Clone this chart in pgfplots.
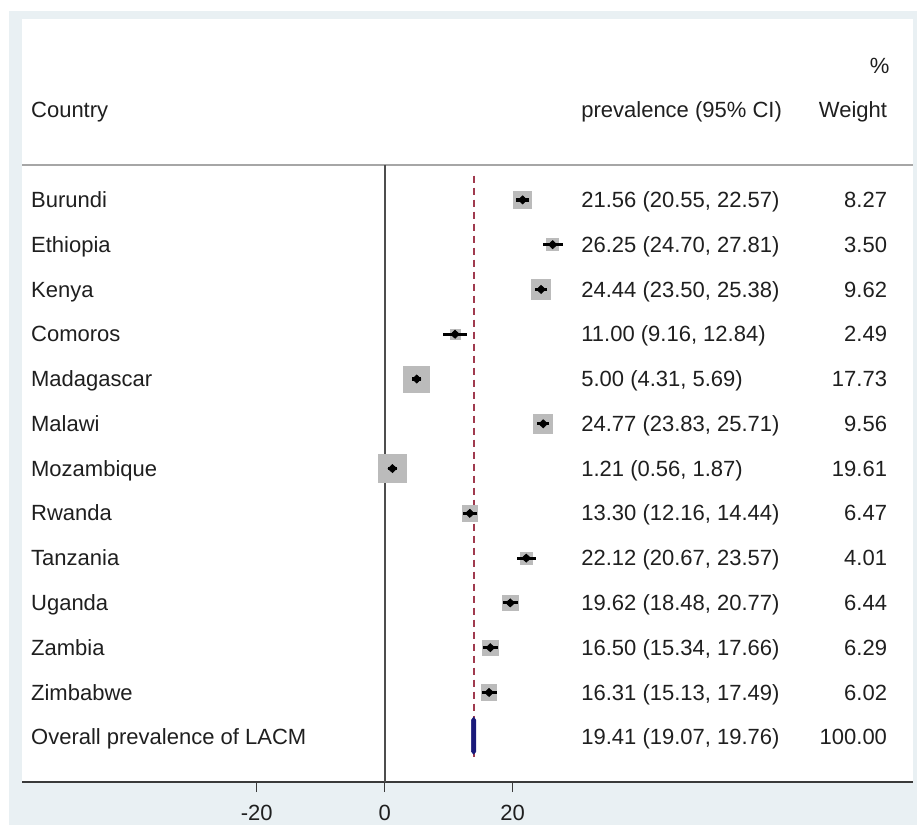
\documentclass[border=0pt]{standalone}
\usepackage{pgfplots}
\pgfplotsset{compat=1.18}
\usepackage{pgfplotstable}
\usepackage{fontspec}
\setmainfont{Liberation Sans}
\definecolor{framecol}{HTML}{E9F0F3}
\definecolor{boxgray}{HTML}{BBBBBB}
\definecolor{refred}{HTML}{A03A4E}
\definecolor{navyd}{HTML}{1A1A7A}
\definecolor{axisgray}{HTML}{3A3A3A}
\pgfplotstableread{
y x lo hi w
1 21.56 20.55 22.57 8.27
2 26.25 24.70 27.81 3.50
3 24.44 23.50 25.38 9.62
4 11.00 9.16 12.84 2.49
5 5.00 4.31 5.69 17.73
6 24.77 23.83 25.71 9.56
7 1.21 0.56 1.87 19.61
8 13.30 12.16 14.44 6.47
9 22.12 20.67 23.57 4.01
10 19.62 18.48 20.77 6.44
11 16.50 15.34 17.66 6.29
12 16.31 15.13 17.49 6.02
}\data
\begin{document}
\begin{tikzpicture}[
  txt/.style={inner sep=0pt, font=\fontsize{11}{13}\selectfont, text=black!88},
  cn/.style={txt, anchor=base west, yshift=-3.8pt},
  wt/.style={txt, anchor=base east, yshift=-3.8pt}]
\fill[white] (-11pt,-21.5pt) rectangle (447.5pt,391pt);
\fill[framecol] (-6.5pt,-21.5pt) rectangle (447.5pt,385.5pt);
\begin{axis}[
  at={(0,0)}, anchor=south west,
  width=445.5pt, height=381.5pt, scale only axis,
  axis background/.style={fill=white},
  xmin=-56.67, xmax=82.55,
  ymin=-3.04, ymax=14, y dir=reverse,
  axis y line=none, axis x line*=bottom,
  axis line style={axisgray, line width=0.7pt, -},
  xtick={-20,0,20},
  tick align=outside, major tick length=5pt,
  tick style={axisgray, line width=0.7pt},
  xticklabel style={font=\fontsize{11}{13}\selectfont, text=black!88, yshift=-3pt},
  /pgf/number format/assume math mode=true,
  clip=false]
% header separator
\addplot[draw=gray!70, line width=0.6pt, mark=none] coordinates {(-56.67,0.22) (82.55,0.22)};
% zero line
\addplot[draw=axisgray!90, line width=1pt, mark=none] coordinates {(0,0.22) (0,14)};
% overall reference line
\addplot[draw=refred, line width=1pt, mark=none, dash pattern=on 3.5pt off 2.5pt] coordinates {(13.9,0.46) (13.9,13.45)};
% weight boxes
\addplot[scatter, only marks, mark=square*,
  scatter/use mapped color={draw=boxgray, fill=boxgray},
  visualization depends on={1.55*sqrt(\thisrow{w}) \as \msz},
  scatter/@pre marker code/.append style={/tikz/mark size=\msz pt}]
  table[x=x,y=y]{\data};
% CIs (horizontal line marks, half length = half CI width)
\addplot[scatter, only marks, mark=-,
  scatter/use mapped color={draw=black, fill=black},
  mark options={line width=1.6pt},
  visualization depends on={(\thisrow{hi}-\thisrow{lo})*1.6 \as \hw},
  scatter/@pre marker code/.append style={/tikz/mark size=\hw pt}]
  table[x expr=(\thisrow{lo}+\thisrow{hi})/2, y=y]{\data};
% estimates
\addplot[only marks, mark=diamond*, mark size=2pt,
  mark options={draw=black, fill=black, xscale=1.4}]
  table[x=x, y=y]{\data};
% overall diamond
\addplot[fill=navyd, draw=navyd, line width=0.3pt] coordinates {
  (13.55,12.62) (13.9,12.55) (14.25,12.62) (14.25,13.32) (13.9,13.38) (13.55,13.32)} -- cycle;
% header
\node[wt] at (axis cs:78.95,-2) {\%};
\node[cn] at (axis cs:-55.3,-1) {Country};
\node[cn] at (axis cs:30.67,-1) {prevalence (95\% CI)};
\node[wt] at (axis cs:78.55,-1) {Weight};
% country names
\node[cn] at (axis cs:-55.3,1) {Burundi};
\node[cn] at (axis cs:-55.3,2) {Ethiopia};
\node[cn] at (axis cs:-55.3,3) {Kenya};
\node[cn] at (axis cs:-55.3,4) {Comoros};
\node[cn] at (axis cs:-55.3,5) {Madagascar};
\node[cn] at (axis cs:-55.3,6) {Malawi};
\node[cn] at (axis cs:-55.3,7) {Mozambique};
\node[cn] at (axis cs:-55.3,8) {Rwanda};
\node[cn] at (axis cs:-55.3,9) {Tanzania};
\node[cn] at (axis cs:-55.3,10) {Uganda};
\node[cn] at (axis cs:-55.3,11) {Zambia};
\node[cn] at (axis cs:-55.3,12) {Zimbabwe};
\node[cn] at (axis cs:-55.3,13) {Overall prevalence of LACM};
% prevalence column
\node[cn] at (axis cs:30.67,1) {21.56 (20.55, 22.57)};
\node[cn] at (axis cs:30.67,2) {26.25 (24.70, 27.81)};
\node[cn] at (axis cs:30.67,3) {24.44 (23.50, 25.38)};
\node[cn] at (axis cs:30.67,4) {11.00 (9.16, 12.84)};
\node[cn] at (axis cs:30.67,5) {5.00 (4.31, 5.69)};
\node[cn] at (axis cs:30.67,6) {24.77 (23.83, 25.71)};
\node[cn] at (axis cs:30.67,7) {1.21 (0.56, 1.87)};
\node[cn] at (axis cs:30.67,8) {13.30 (12.16, 14.44)};
\node[cn] at (axis cs:30.67,9) {22.12 (20.67, 23.57)};
\node[cn] at (axis cs:30.67,10) {19.62 (18.48, 20.77)};
\node[cn] at (axis cs:30.67,11) {16.50 (15.34, 17.66)};
\node[cn] at (axis cs:30.67,12) {16.31 (15.13, 17.49)};
\node[cn] at (axis cs:30.67,13) {19.41 (19.07, 19.76)};
% weight column
\node[wt] at (axis cs:78.55,1) {8.27};
\node[wt] at (axis cs:78.55,2) {3.50};
\node[wt] at (axis cs:78.55,3) {9.62};
\node[wt] at (axis cs:78.55,4) {2.49};
\node[wt] at (axis cs:78.55,5) {17.73};
\node[wt] at (axis cs:78.55,6) {9.56};
\node[wt] at (axis cs:78.55,7) {19.61};
\node[wt] at (axis cs:78.55,8) {6.47};
\node[wt] at (axis cs:78.55,9) {4.01};
\node[wt] at (axis cs:78.55,10) {6.44};
\node[wt] at (axis cs:78.55,11) {6.29};
\node[wt] at (axis cs:78.55,12) {6.02};
\node[wt] at (axis cs:78.55,13) {100.00};
\end{axis}
\end{tikzpicture}
\end{document}
